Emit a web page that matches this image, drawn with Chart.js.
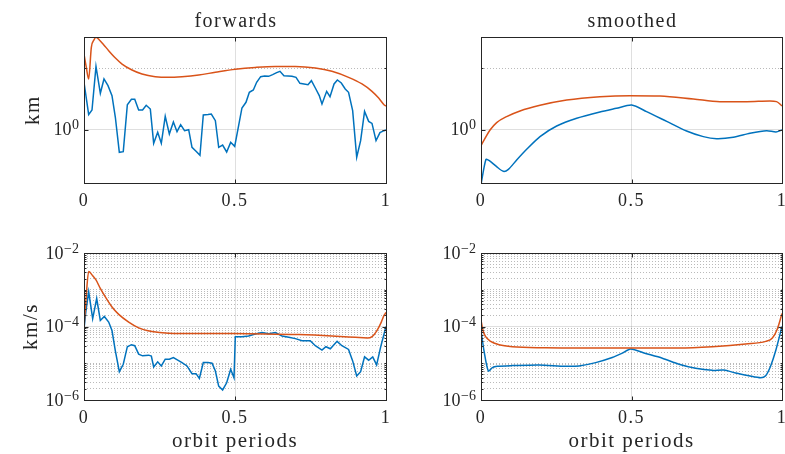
<!DOCTYPE html>
<html>
<head>
<meta charset="utf-8">
<script src="https://cdn.jsdelivr.net/npm/chart.js@4.4.1/dist/chart.umd.min.js"></script>
<style>
  html, body { margin: 0; padding: 0; background: #fff; width: 785px; height: 454px; overflow: hidden; }
  canvas { position: absolute; }
</style>
</head>
<body>
<canvas id="fwdPos" width="400" height="220" style="left:0;top:0"></canvas>
<canvas id="smoPos" width="400" height="220" style="left:400px;top:0"></canvas>
<canvas id="fwdVel" width="400" height="234" style="left:0;top:220px"></canvas>
<canvas id="smoVel" width="400" height="234" style="left:400px;top:220px"></canvas>
<script>
// ---- forward filter, position (km) ----
const fwdPosErrT = [0, 0.0155, 0.0265, 0.0397, 0.0541, 0.0662, 0.0795, 0.0927, 0.1038, 0.117, 0.130, 0.1435, 0.157, 0.168, 0.181, 0.194, 0.206, 0.2196, 0.2307, 0.244, 0.256, 0.269, 0.2826, 0.296, 0.308, 0.320, 0.333, 0.3466, 0.3576, 0.371, 0.384, 0.395, 0.4106, 0.4216, 0.435, 0.446, 0.459, 0.4724, 0.4857, 0.499, 0.512, 0.523, 0.5364, 0.5475, 0.5607, 0.5717, 0.585, 0.598, 0.6115, 0.6247, 0.638, 0.649, 0.662, 0.6755, 0.6887, 0.702, 0.715, 0.7285, 0.7417, 0.753, 0.766, 0.779, 0.788, 0.8035, 0.8146, 0.828, 0.839, 0.852, 0.865, 0.876, 0.8896, 0.903, 0.916, 0.929, 0.9426, 0.9536, 0.967, 0.980, 0.9934, 1.0];
const fwdPosErr = [5.96, 1.78, 2.11, 10.8, 3.95, 6.75, 5.26, 3.62, 1.61, 0.433, 0.444, 2.58, 3.15, 3.15, 2.11, 2.11, 2.52, 2.19, 0.607, 0.916, 0.607, 1.67, 0.861, 1.35, 0.94, 1.22, 0.975, 1.01, 0.523, 0.45, 0.387, 1.75, 1.78, 1.82, 1.42, 0.523, 0.57, 0.439, 0.63, 0.542, 1.18, 2.28, 2.82, 4.1, 4.47, 5.96, 7.36, 7.55, 7.45, 7.94, 8.55, 9.0, 7.64, 7.55, 7.45, 7.18, 5.74, 5.6, 5.46, 6.34, 4.82, 3.62, 2.65, 4.25, 3.48, 5.6, 6.5, 5.81, 4.64, 4.1, 2.06, 0.36, 0.671, 2.01, 1.38, 1.28, 0.671, 0.905, 0.975, 1.0];
const fwdPosBoundT = [0, 0.0077, 0.0155, 0.0243, 0.0331, 0.0397, 0.0508, 0.065, 0.0817, 0.104, 0.126, 0.159, 0.192, 0.236, 0.28, 0.3245, 0.38, 0.435, 0.501, 0.567, 0.6336, 0.70, 0.766, 0.821, 0.876, 0.9205, 0.9536, 0.9757, 0.9934, 1.0];
const fwdPosBound = [17.2, 10.4, 6.75, 22.1, 29.1, 32.1, 29.1, 24.4, 19.5, 14.8, 11.8, 9.45, 8.14, 7.36, 7.18, 7.36, 7.84, 8.67, 9.69, 10.4, 10.8, 10.8, 10.2, 9.0, 7.18, 5.6, 4.25, 3.31, 2.58, 2.45];

// ---- smoother, position (km) ----
const smoPosErrT = [0, 0.0166, 0.0277, 0.052, 0.074, 0.091, 0.1185, 0.1517, 0.196, 0.2514, 0.318, 0.395, 0.45, 0.5006, 0.55, 0.617, 0.683, 0.7386, 0.783, 0.838, 0.8937, 0.949, 0.98, 1.0];
const smoPosErr = [0.13, 0.333, 0.317, 0.253, 0.213, 0.229, 0.325, 0.485, 0.78, 1.16, 1.55, 1.96, 2.25, 2.55, 1.99, 1.38, 0.963, 0.78, 0.723, 0.76, 0.883, 0.975, 0.928, 1.0];
const smoPosBoundT = [0, 0.0133, 0.03, 0.052, 0.085, 0.1296, 0.196, 0.2846, 0.395, 0.495, 0.5947, 0.7054, 0.794, 0.8826, 0.96, 0.982, 1.0];
const smoPosBound = [0.556, 0.732, 1.0, 1.32, 1.65, 2.04, 2.52, 3.07, 3.48, 3.62, 3.57, 3.19, 2.89, 2.89, 2.96, 2.89, 2.46];

// ---- forward filter, velocity (km/s) ----
const fwdVelErrT = [0, 0.0066, 0.0155, 0.0287, 0.042, 0.054, 0.0673, 0.0817, 0.0927, 0.1038, 0.117, 0.13, 0.1435, 0.157, 0.168, 0.181, 0.194, 0.214, 0.223, 0.2307, 0.244, 0.256, 0.269, 0.2826, 0.296, 0.309, 0.3245, 0.341, 0.3576, 0.371, 0.382, 0.395, 0.4106, 0.424, 0.435, 0.446, 0.459, 0.4724, 0.4857, 0.4967, 0.501, 0.523, 0.545, 0.567, 0.589, 0.6115, 0.6336, 0.6556, 0.678, 0.7, 0.722, 0.749, 0.766, 0.788, 0.801, 0.8157, 0.838, 0.854, 0.876, 0.8896, 0.903, 0.916, 0.929, 0.9426, 0.956, 0.969, 0.982, 1.0];
const fwdVelErr = [8.6e-5, 2.75e-4, 8.8e-4, 1.63e-4, 5.77e-4, 1.46e-4, 1.88e-4, 1.32e-4, 7.76e-5, 2.18e-5, 5.9e-6, 9.4e-6, 2.82e-5, 3.2e-5, 3.0e-5, 1.77e-5, 1.59e-5, 1.66e-5, 1.57e-5, 7.9e-6, 1.09e-5, 8.45e-6, 1.29e-5, 1.29e-5, 1.43e-5, 1.24e-5, 1.04e-5, 8.45e-6, 5.2e-6, 5.2e-6, 3.86e-6, 1.04e-5, 1.04e-5, 1.0e-5, 6.15e-6, 2.38e-6, 1.88e-6, 2.94e-6, 6.84e-6, 4.03e-6, 5.3e-5, 5.3e-5, 5.53e-5, 6.28e-5, 6.84e-5, 6.4e-5, 6.84e-5, 5.53e-5, 5.09e-5, 4.68e-5, 4.12e-5, 4.12e-5, 3.0e-5, 2.28e-5, 2.82e-5, 2.48e-5, 3.94e-5, 3.0e-5, 2.38e-5, 1.16e-5, 4.48e-6, 5.9e-6, 1.49e-5, 1.21e-5, 1.49e-5, 9.0e-6, 2.7e-5, 1.0e-4];
const fwdVelBoundT = [0, 0.0066, 0.0155, 0.0265, 0.0397, 0.054, 0.0706, 0.0927, 0.115, 0.148, 0.181, 0.225, 0.28, 0.38, 0.49, 0.6, 0.711, 0.821, 0.898, 0.9376, 0.954, 0.97, 0.9845, 0.9934, 1.0];
const fwdVelBound = [9.6e-5, 5.5e-4, 3.13e-3, 2.54e-3, 1.85e-3, 1.09e-3, 6.4e-4, 3.4e-4, 2.14e-4, 1.32e-4, 9.2e-5, 7.3e-5, 6.56e-5, 6.4e-5, 6.4e-5, 6.28e-5, 6.02e-5, 5.53e-5, 5.09e-5, 4.87e-5, 5.3e-5, 7.76e-5, 1.32e-4, 2.0e-4, 2.4e-4];

// ---- smoother, velocity (km/s) ----
const smoVelErrT = [0, 0.01, 0.0244, 0.0377, 0.054, 0.104, 0.1927, 0.281, 0.3256, 0.381, 0.436, 0.4696, 0.497, 0.547, 0.6024, 0.658, 0.713, 0.7686, 0.807, 0.846, 0.89, 0.929, 0.9457, 0.9623, 0.979, 1.0];
const smoVelErr = [7.76e-5, 2.18e-5, 6.15e-6, 7.6e-6, 8.26e-6, 8.63e-6, 9.0e-6, 8.26e-6, 8.45e-6, 1.04e-5, 1.43e-5, 1.88e-5, 2.43e-5, 1.85e-5, 1.37e-5, 9.4e-6, 7.27e-6, 6.4e-6, 6.55e-6, 5.42e-6, 4.58e-6, 4.03e-6, 4.58e-6, 8.45e-6, 2.18e-5, 1.0e-4];
const smoVelBoundT = [0, 0.0066, 0.0155, 0.032, 0.06, 0.104, 0.215, 0.3256, 0.497, 0.658, 0.7686, 0.879, 0.946, 0.968, 0.9845, 1.0];
const smoVelBound = [1.5e-4, 7.76e-5, 5.3e-5, 3.94e-5, 3.2e-5, 2.82e-5, 2.64e-5, 2.59e-5, 2.59e-5, 2.59e-5, 2.82e-5, 3.34e-5, 3.94e-5, 4.87e-5, 8.6e-5, 2.25e-4];

// ---- axes: ticks and labels ----
const xTicks = [0, 0.5, 1];
const xTickLabels = ['0', '0.5', '1'];
const posRange = [0.1375, 32.5];
const posGrid = [1, 10];
const posMajor = [1];
const posLabelExps = [0];
const velRange = [1e-6, 1e-2];
const velDecades = [-6, -5, -4, -3];
const velMantissas = [1, 2, 3, 4, 5, 6, 7, 8, 9];
const velMajor = [1e-6, 1e-4, 1e-2];
const velLabelExps = [-2, -4, -6];
const velGrid = velDecades.flatMap(e => velMantissas.map(m => Number((m * Math.pow(10, e)).toPrecision(3)))).concat([1e-2]);

const BLUE = '#0072BD';
const ORANGE = '#D95319';
const INK = '#262626';
const FONT = '"Liberation Serif", "Times New Roman", serif';
const MAJOR_GRID = 'rgba(38,38,38,0.15)';
const MINOR_GRID = 'rgba(26,26,26,0.30)';

Chart.defaults.font.family = FONT;
Chart.defaults.color = INK;

function pts(xs, ys) { return xs.map((x, i) => ({ x, y: ys[i] })); }
function isMajor(v, majors) { return majors.some(m => Math.abs(Math.log10(v / m)) < 1e-6); }

// Box, inward tick marks, 10^n tick labels and panel title
const decor = {
  id: 'decor',
  beforeLayout(chart) { chart.ctx.letterSpacing = '1.5px'; },
  beforeDraw(chart) { chart.ctx.letterSpacing = '1.5px'; },
  afterDraw(chart, args, o) {
    const { ctx, chartArea: a } = chart;
    const xs = chart.scales.x, ys = chart.scales.y;
    const L = Math.round(a.left) + 0.5, R = Math.round(a.right) + 0.5;
    const T = Math.round(a.top) + 0.5, B = Math.round(a.bottom) + 0.5;
    ctx.save();
    ctx.strokeStyle = INK;
    ctx.lineWidth = 1;
    ctx.setLineDash([]);
    ctx.beginPath();
    for (const v of xTicks) {
      const px = Math.round(xs.getPixelForValue(v)) + 0.5;
      ctx.moveTo(px, B); ctx.lineTo(px, B - 4);
      ctx.moveTo(px, T); ctx.lineTo(px, T + 4);
    }
    for (const t of ys.ticks) {
      const py = Math.round(ys.getPixelForValue(t.value)) + 0.5;
      const len = isMajor(t.value, o.major) ? 4 : 2;
      ctx.moveTo(L, py); ctx.lineTo(L + len, py);
      ctx.moveTo(R, py); ctx.lineTo(R - len, py);
    }
    ctx.stroke();
    ctx.strokeRect(L, T, R - L, B - T);

    ctx.fillStyle = INK;
    ctx.letterSpacing = '0px';
    ctx.textAlign = 'right';
    ctx.textBaseline = 'alphabetic';
    for (const e of o.labelExps) {
      const py = ys.getPixelForValue(Math.pow(10, e));
      const sup = e < 0 ? '\u2212' + (-e) : String(e);
      ctx.font = '14px ' + FONT;
      const right = a.left - 5;
      ctx.fillText(sup, right, py - 0.5);
      const w = ctx.measureText(sup).width;
      ctx.font = '18px ' + FONT;
      ctx.fillText('10', right - w - 0.5, py + 5.5);
    }
    if (o.title) {
      ctx.letterSpacing = '1.5px';
      ctx.font = '20px ' + FONT;
      ctx.textAlign = 'center';
      ctx.fillText(o.title, (a.left + a.right) / 2 + 1, 27);
    }
    ctx.restore();
  }
};

function makePanel(id, p) {
  return new Chart(document.getElementById(id), {
    type: 'line',
    data: {
      datasets: [
        { data: pts(p.boundT, p.bound), borderColor: ORANGE, borderWidth: 1.5, pointRadius: 0,
          cubicInterpolationMode: 'monotone', fill: false },
        { data: pts(p.errT, p.err), borderColor: BLUE, borderWidth: 1.5, pointRadius: 0,
          tension: p.errTension, fill: false }
      ]
    },
    options: {
      responsive: false,
      devicePixelRatio: 1,
      animation: false,
      events: [],
      layout: { autoPadding: false, padding: { top: p.top, right: p.right, left: 0, bottom: 0 } },
      plugins: {
        legend: { display: false },
        tooltip: { enabled: false },
        decor: { title: p.title, major: p.major, labelExps: p.labelExps }
      },
      scales: {
        x: {
          type: 'linear', min: 0, max: 1,
          afterBuildTicks: s => { s.ticks = xTicks.map(v => ({ value: v })); },
          ticks: { callback: (v, i) => xTickLabels[i], font: { size: 18 }, padding: 7, maxRotation: 0, color: INK },
          grid: { color: MAJOR_GRID, lineWidth: 1, drawTicks: false },
          border: { display: false },
          title: { display: !!p.xTitle, text: p.xTitle || '', font: { size: 21 }, color: INK,
                   padding: { top: 0, bottom: 0 } },
          afterFit: s => { s.height = p.xAxisH; }
        },
        y: {
          type: 'logarithmic', min: p.range[0], max: p.range[1],
          afterBuildTicks: s => { s.ticks = p.grid.map(v => ({ value: v })); },
          ticks: { display: false },
          grid: {
            lineWidth: 1, drawTicks: false,
            color: c => (c.tick && isMajor(c.tick.value, p.major)) ? MAJOR_GRID : MINOR_GRID
          },
          border: {
            display: false,
            dash: c => (c.tick && isMajor(c.tick.value, p.major)) ? [] : [1, 2]
          },
          title: { display: !!p.yTitle, text: p.yTitle || '', font: { size: 21 }, color: INK,
                   padding: { top: p.yTitlePad, bottom: 0 } },
          afterFit: s => { s.width = p.yAxisW; }
        }
      }
    },
    plugins: [decor]
  });
}

makePanel('fwdPos', {
  title: 'forwards', yTitle: 'km', yTitlePad: 20.5,
  errT: fwdPosErrT, err: fwdPosErr, boundT: fwdPosBoundT, bound: fwdPosBound, errTension: 0,
  range: posRange, grid: posGrid, major: posMajor, labelExps: posLabelExps,
  top: 37, right: 14, yAxisW: 84, xAxisH: 37
});
makePanel('smoPos', {
  title: 'smoothed',
  errT: smoPosErrT, err: smoPosErr, boundT: smoPosBoundT, bound: smoPosBound, errTension: 0.25,
  range: posRange, grid: posGrid, major: posMajor, labelExps: posLabelExps,
  top: 37, right: 18, yAxisW: 81, xAxisH: 37
});
makePanel('fwdVel', {
  yTitle: 'km/s', yTitlePad: 18.5, xTitle: 'orbit periods',
  errT: fwdVelErrT, err: fwdVelErr, boundT: fwdVelBoundT, bound: fwdVelBound, errTension: 0,
  range: velRange, grid: velGrid, major: velMajor, labelExps: velLabelExps,
  top: 33, right: 14, yAxisW: 84, xAxisH: 54
});
makePanel('smoVel', {
  xTitle: 'orbit periods',
  errT: smoVelErrT, err: smoVelErr, boundT: smoVelBoundT, bound: smoVelBound, errTension: 0.25,
  range: velRange, grid: velGrid, major: velMajor, labelExps: velLabelExps,
  top: 33, right: 18, yAxisW: 81, xAxisH: 54
});
</script>
</body>
</html>
